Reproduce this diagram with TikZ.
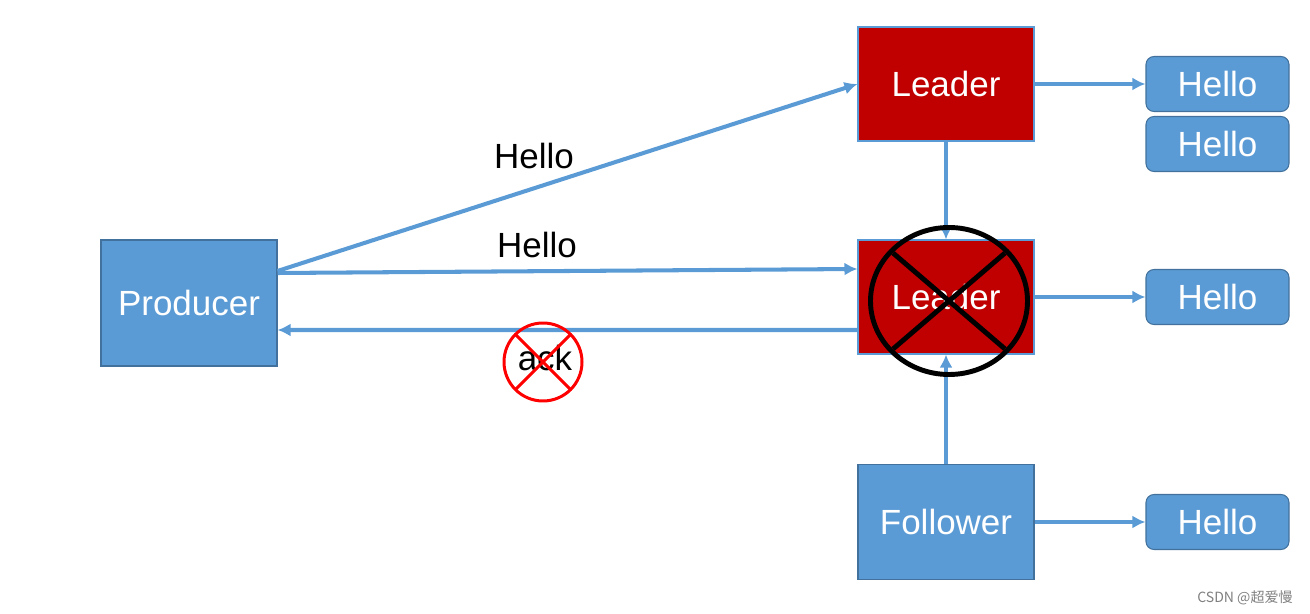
\documentclass[tikz,border=0pt]{standalone}
\usepackage{fontspec}
\setmainfont{Liberation Sans}
\newfontfamily\cjk{Noto Sans CJK SC}
\usetikzlibrary{arrows.meta}
\definecolor{msblue}{HTML}{5B9BD5}
\definecolor{msedge}{HTML}{41719C}
\definecolor{msred}{HTML}{C00000}
\begin{document}
\begin{tikzpicture}[
    box/.style={draw=msedge,line width=0.6pt,fill=msblue,text=white,minimum width=3.52cm,minimum height=2.52cm,inner sep=0pt},
    lead/.style={draw=msblue,line width=0.6pt,fill=msred,text=white,minimum width=3.52cm,minimum height=2.28cm,inner sep=0pt},
    msg/.style={draw=msedge,line width=0.6pt,fill=msblue,text=white,rounded corners=0.16cm,minimum width=2.86cm,minimum height=1.1cm,inner sep=0pt},
    link/.style={draw=msblue,line width=2.3pt,-{Latex[length=0.26cm,width=0.26cm]}},
    every node/.style={font=\fontsize{19.9}{24}\selectfont}]
                    \useasboundingbox (0,0) rectangle (26.2,-12.28);
                    %NODE
                    \node[box] (P) at (3.78,-6.06){Producer};
                    \node[lead] (L1) at (18.92,-1.68){Leader};
                    \node[lead] (L2) at (18.92,-5.94){Leader};
                    \node[box,minimum height=2.3cm] (F) at (18.92,-10.44){Follower};
                    \node[msg] (H1) at (24.35,-1.68){Hello};
                    \node[msg] (H2) at (24.35,-2.88){Hello};
                    \node[msg] (H3) at (24.35,-5.94){Hello};
                    \node[msg] (H4) at (24.35,-10.44){Hello};
                    \node (T1) at (10.68,-3.12){Hello};
                    \node (T2) at (10.74,-4.9){Hello};
                    \node (A) at (10.9,-7.16){ack};
                    \node[font=\cjk\fontsize{8}{10}\selectfont,text=gray] (W) at (24.9,-11.95){CSDN @超爱慢};
                    
                    %EDGE
                    \draw[link] ([yshift=0.64cm]P.east) -- (L1.west);
                    \draw[link] ([yshift=0.6cm]P.east) -- ([yshift=0.56cm]L2.west);
                    \draw[link] ([yshift=-0.66cm]L2.west) -- ([yshift=-0.54cm]P.east);
                    \draw[link] (L1.south) -- (L2.north);
                    \draw[link] (F.north) -- (L2.south);
                    \draw[link] (L1.east) -- (H1.west);
                    \draw[link] (L2.east) -- (H3.west);
                    \draw[link] (F.east) -- (H4.west);
                    
                    %CROSS
                    \draw[red,line width=1.7pt] (10.86,-7.24) circle (0.78);
                    \draw[red,line width=1.7pt] (10.31,-6.69) -- (11.41,-7.79);
                    \draw[red,line width=1.7pt] (11.41,-6.69) -- (10.31,-7.79);
                    \draw[black,line width=2.8pt] (18.98,-6.02) ellipse (1.57 and 1.47);
                    \draw[black,line width=2.8pt] (17.86,-5.06) -- (20.1,-6.98);
                    \draw[black,line width=2.8pt] (20.1,-5.06) -- (17.86,-6.98);
                \end{tikzpicture}
\end{document}
